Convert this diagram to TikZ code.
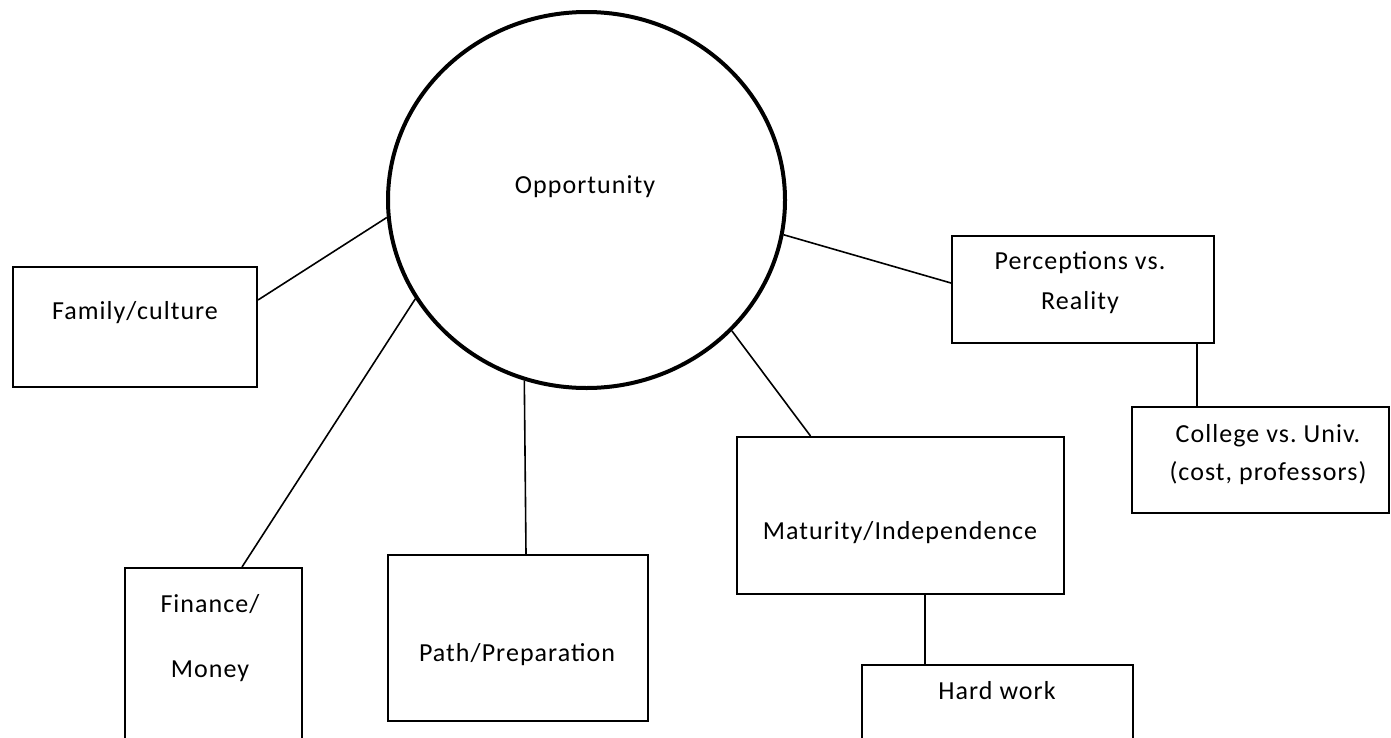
\documentclass[tikz,border=0pt]{standalone}
\usepackage{fontspec}
\setmainfont[LetterSpace=4]{Carlito}
\usetikzlibrary{shapes.geometric}
\begin{document}
\begin{tikzpicture}[x=1pt,y=-1pt,
  box/.style={draw=black,line width=2pt,rectangle,inner sep=0pt},
  txt/.style={inner sep=0pt,align=center,font=\fontsize{26}{40}\selectfont},
  conn/.style={draw=black,line width=1.6pt}]
\useasboundingbox (0,0) rectangle (1391,737);
\fill[white] (0,0) rectangle (1391,737);
% central ellipse
\node[ellipse,draw=black,line width=4pt,minimum width=397pt,minimum height=376pt,inner sep=0pt] (opp) at (586.5,200) {};
\node[txt] (topp) at (585,187) {Opportunity};
% boxes
\node[box,minimum width=244pt,minimum height=120pt] (fam) at (135,327) {};
\node[txt] (tfam) at (135,313) {Family/culture};
\node[box,minimum width=262pt,minimum height=107pt] (per) at (1083,289.5) {};
\node[txt] (tper) at (1080,283) {Perceptions vs.\\Reality};
\node[box,minimum width=257pt,minimum height=106pt] (col) at (1260.5,460) {};
\node[txt,font=\fontsize{26}{38}\selectfont] (tcol) at (1268,455) {College vs.\ Univ.\\(cost, professors)};
\node[box,minimum width=327pt,minimum height=157pt] (mat) at (900.5,515.5) {};
\node[txt] (tmat) at (900,533) {Maturity/Independence};
\node[box,minimum width=271pt,minimum height=110pt] (hard) at (997.5,720) {};
\node[txt] (thard) at (997,691) {Hard work};
\node[box,minimum width=177pt,minimum height=210pt] (fin) at (213.5,673) {};
\node[txt,font=\fontsize{26}{65}\selectfont] (tfin) at (210,638) {Finance/\\Money};
\node[box,minimum width=260pt,minimum height=166pt] (pth) at (518,638) {};
\node[txt] (tpth) at (517,655) {Path/Preparation};
% connectors
\draw[conn] ([yshift=27pt]fam.east) -- (opp.185.1);
\draw[conn] ([xshift=28.5pt]fin.north) -- (opp.210.7);
\draw[conn] ([xshift=8pt]pth.north) -- (opp.251.3);
\draw[conn] ([xshift=-90pt]mat.north) -- (opp.318.75);
\draw[conn] ([yshift=6.5pt]per.west) -- (opp.350);
\draw[conn] ([xshift=114pt]per.south) -- ([xshift=114pt]per.south |- col.north);
\draw[conn] ([xshift=24.5pt]mat.south) -- ([xshift=24.5pt]mat.south |- hard.north);
\end{tikzpicture}
\end{document}
